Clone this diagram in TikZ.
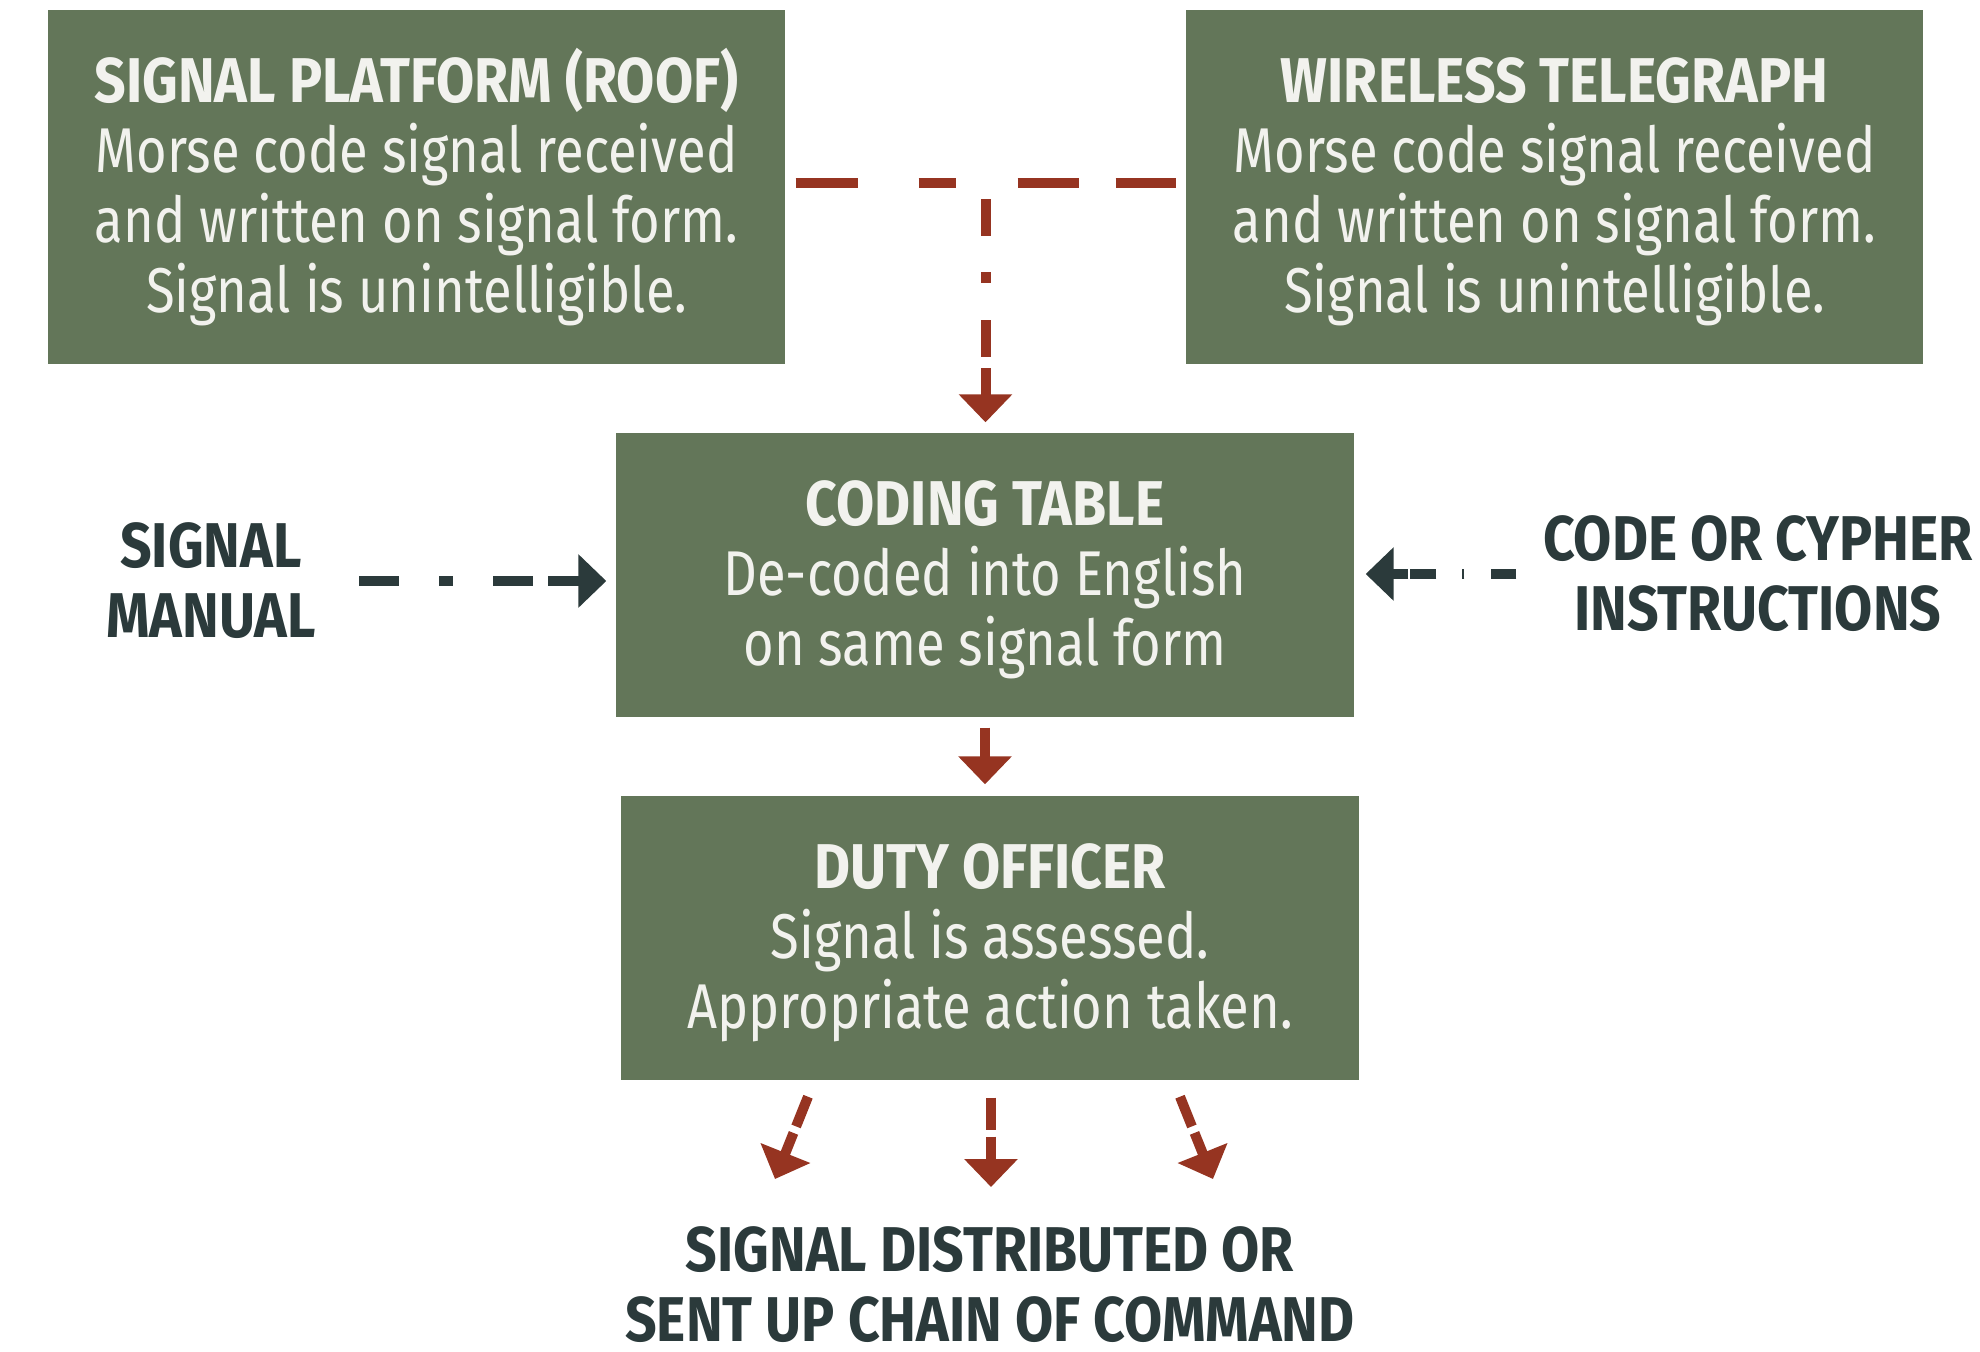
\documentclass[tikz,border=0pt]{standalone}
\usepackage{fontspec}
\setmainfont{Fira Sans}[FakeStretch=0.83, BoldFeatures={FakeStretch=0.875}]
\usepackage{tikz}
\usetikzlibrary{calc}
\usetikzlibrary{arrows.meta}
\definecolor{boxgreen}{HTML}{637659}
\definecolor{boxtext}{HTML}{F2F2EE}
\definecolor{arrowred}{HTML}{963421}
\definecolor{labeldark}{HTML}{2B3A3B}
\newcommand\stagehead[1]{\textbf{\vphantom{(}#1}}
\tikzset{>={Triangle[width=5.2mm,length=2.8mm]}}
\tikzset{
  stage/.style={fill=boxgreen, text=boxtext, align=center, inner sep=0pt,
    minimum width=73.7mm, minimum height=35.4mm,
    font=\fontsize{18}{19.9}\selectfont},
  side/.style={text=labeldark, align=center, inner sep=0pt,
    font=\bfseries\fontsize{18}{19.9}\selectfont},
  redline/.style={draw=arrowred, line width=1mm},
  darkline/.style={draw=labeldark, line width=1mm}
}

\begin{document}
\begin{tikzpicture}[x=0.1mm, y=-0.1mm]
      \useasboundingbox (0,0) rectangle (1980,1352);

      % the four stages
      \node [stage] (plat) at (416.5,187) {\stagehead{SIGNAL PLATFORM (ROOF)}\\
        Morse code signal received\\and written on signal form.\\
        Signal is unintelligible.};

      \node [stage] (wire) at (1554.5,187) {\stagehead{WIRELESS TELEGRAPH}\\
        Morse code signal received\\and written on signal form.\\
        Signal is unintelligible.};

      \node [stage, minimum width=73.8mm, minimum height=28.4mm] (coding)
      at (985,575) {\stagehead{CODING TABLE}\\De-coded into English\\
        on same signal form};

      \node [stage, minimum width=73.8mm, minimum height=28.4mm] (duty)
      at (990,938) {\stagehead{DUTY OFFICER}\\Signal is assessed.\\
        Appropriate action taken.};

      % side labels
      \node [side] (manual) at (211,581) {SIGNAL\\MANUAL};
      \node [side] (cypher) at (1758,574) {CODE OR CYPHER\\INSTRUCTIONS};
      \node [side] (outtext) at (990,1285) {SIGNAL DISTRIBUTED OR\\
        SENT UP CHAIN OF COMMAND};

      \coordinate (tee) at ($([yshift=0.4mm]plat.east)!0.5!([yshift=0.4mm]wire.west)$);

      \draw [redline, shorten <=1mm, shorten >=0.9mm,
      dash pattern=on 6.2mm off 6.1mm on 3.7mm off 6.2mm on 6.1mm off 3.7mm on 6.2mm]
      ([yshift=0.4mm]plat.east) -- ([yshift=0.4mm]wire.west);

      \draw [redline, ->, shorten <=1.6mm, shorten >=1mm,
      dash pattern=on 3.7mm off 3.6mm on 1.1mm off 3.7mm on 3.7mm off 1.1mm on 10mm]
      (tee) -- (tee |- coding.north);

      \draw [darkline, ->, shorten <=4.3mm, shorten >=0.9mm,
      dash pattern=on 4mm off 4mm on 1.4mm off 4mm on 4mm off 1.5mm on 10mm]
      (manual.east) -- (manual.east -| coding.west);

      \draw [darkline, ->, shorten <=2.6mm, shorten >=1.1mm,
      dash pattern=on 2.5mm off 2.7mm on 0.2mm off 2.6mm on 2.6mm off 0.2mm on 10mm]
      (cypher.west) -- (cypher.west -| coding.east);

      \draw [redline, ->, shorten <=1mm, shorten >=1.1mm]
      (coding.south) -- (coding.south |- duty.north);

      % out to the chain of command
      \coordinate (outl) at (775,1179);
      \coordinate (outm) at (991,1187);
      \coordinate (outr) at (1213,1179);

      \draw [redline, ->, dash pattern=on 3.2mm off 0.7mm on 10mm]
      ($(duty.south)+(-182,16)$) -- (outl);
      \draw [redline, ->, shorten <=1.7mm, dash pattern=on 3.2mm off 0.7mm on 10mm]
      (duty.south -| outm) -- (outm);
      \draw [redline, ->, dash pattern=on 3.2mm off 0.7mm on 10mm]
      ($(duty.south)+(190,16)$) -- (outr);
  \end{tikzpicture}
\end{document}
